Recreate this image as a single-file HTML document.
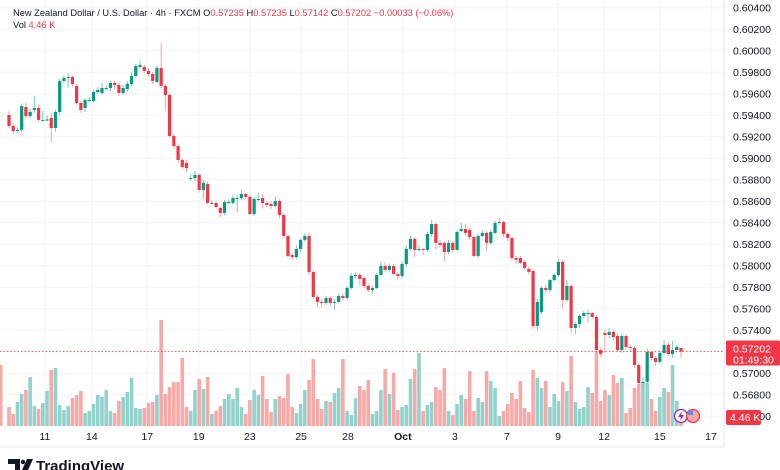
<!DOCTYPE html>
<html><head><meta charset="utf-8">
<style>
body{margin:0;background:#fff;width:780px;height:470px;overflow:hidden;font-family:"Liberation Sans",sans-serif}
#wrap{position:relative;width:780px;height:470px}
svg{position:absolute;left:0;top:0}
</style></head>
<body><div id="wrap">
<svg id="chart" width="780" height="470"></svg>
</div>
<script>
const opens=[.59402,.59300,.59253,.59263,.59477,.59393,.59449,.59467,.59356,.59356,.59374,.59281,.59430,.59719,.59746,.59756,.59672,.59514,.59467,.59542,.59533,.59616,.59607,.59653,.59653,.59700,.59681,.59607,.59644,.59691,.59765,.59849,.59849,.59812,.59784,.59709,.59840,.59672,.59588,.59207,.59114,.58984,.58956,.58816,.58816,.58844,.58705,.58760,.58584,.58584,.58537,.58491,.58593,.58584,.58630,.58630,.58667,.58640,.58481,.58621,.58630,.58584,.58574,.58556,.58602,.58472,.58277,.58100,.58081,.58156,.58240,.58277,.57942,.57709,.57663,.57653,.57700,.57653,.57663,.57719,.57700,.57793,.57914,.57914,.57886,.57812,.57774,.57793,.57914,.57998,.57961,.57998,.57923,.57905,.58016,.58156,.58249,.58156,.58156,.58147,.58295,.58388,.58212,.58212,.58128,.58212,.58147,.58323,.58342,.58333,.58267,.58091,.58277,.58305,.58212,.58305,.58398,.58407,.58295,.58258,.58072,.58072,.58035,.57970,.57951,.57440,.57570,.57793,.57774,.57867,.57914,.58035,.57681,.57812,.57421,.57458,.57533,.57560,.57560,.57523,.57216,.57374,.57356,.57384,.57346,.57216,.57346,.57244,.57235,.57077,.56909,.56919,.57198,.57142,.57105,.57188,.57263,.57179,.57216,.57235];
const closes=[.59300,.59253,.59263,.59486,.59393,.59430,.59467,.59356,.59356,.59360,.59281,.59430,.59719,.59746,.59756,.59691,.59514,.59449,.59542,.59542,.59616,.59635,.59653,.59653,.59700,.59681,.59607,.59653,.59691,.59765,.59858,.59867,.59812,.59784,.59719,.59840,.59672,.59588,.59207,.59114,.58984,.58919,.58909,.58816,.58844,.58705,.58770,.58584,.58584,.58546,.58491,.58593,.58593,.58630,.58630,.58667,.58640,.58481,.58621,.58621,.58584,.58565,.58556,.58602,.58472,.58277,.58091,.58081,.58156,.58240,.58277,.57942,.57709,.57663,.57653,.57700,.57653,.57663,.57719,.57700,.57793,.57905,.57914,.57877,.57812,.57774,.57793,.57914,.57998,.57961,.57998,.57923,.57905,.58016,.58156,.58249,.58147,.58156,.58147,.58295,.58388,.58212,.58193,.58128,.58212,.58147,.58314,.58342,.58305,.58267,.58091,.58277,.58305,.58212,.58314,.58398,.58407,.58295,.58258,.58072,.58054,.58026,.57979,.57942,.57440,.57663,.57793,.57774,.57867,.57914,.58035,.57681,.57812,.57421,.57458,.57533,.57560,.57560,.57523,.57216,.57179,.57356,.57384,.57337,.57216,.57346,.57244,.57235,.57077,.56909,.56919,.57198,.57142,.57105,.57188,.57263,.57179,.57216,.57244,.57202];
const highs=[.59440,.59330,.59290,.59510,.59520,.59460,.59580,.59500,.59440,.59400,.59420,.59450,.59740,.59770,.59790,.59770,.59690,.59530,.59560,.59570,.59640,.59660,.59700,.59680,.59720,.59720,.59700,.59680,.59720,.59800,.59880,.59910,.59870,.59840,.59800,.59860,.60070,.59690,.59610,.59230,.59130,.59000,.58980,.58850,.58880,.58860,.58800,.58780,.58610,.58600,.58560,.58610,.58620,.58660,.58660,.58700,.58680,.58660,.58640,.58680,.58670,.58600,.58600,.58640,.58620,.58490,.58290,.58120,.58190,.58260,.58300,.58310,.57960,.57730,.57690,.57720,.57720,.57690,.57740,.57740,.57810,.57930,.57940,.57930,.57900,.57830,.57810,.57930,.58040,.58030,.58020,.58020,.57940,.58040,.58190,.58280,.58260,.58190,.58170,.58320,.58430,.58400,.58240,.58230,.58240,.58230,.58330,.58400,.58390,.58350,.58280,.58300,.58330,.58320,.58340,.58420,.58440,.58420,.58310,.58270,.58090,.58090,.58050,.57990,.57970,.57690,.57810,.57820,.57880,.57930,.58060,.58050,.57870,.57830,.57480,.57550,.57580,.57590,.57570,.57540,.57240,.57400,.57420,.57410,.57370,.57370,.57360,.57270,.57250,.57090,.56960,.57230,.57210,.57160,.57210,.57310,.57290,.57300,.57260,.57235];
const lows=[.59280,.59230,.59235,.59240,.59370,.59370,.59420,.59340,.59340,.59340,.59150,.59250,.59400,.59700,.59660,.59660,.59500,.59420,.59430,.59520,.59520,.59600,.59590,.59630,.59620,.59640,.59580,.59590,.59620,.59670,.59750,.59830,.59790,.59760,.59690,.59700,.59650,.59440,.59190,.59090,.58960,.58900,.58870,.58790,.58790,.58680,.58620,.58570,.58570,.58530,.58450,.58470,.58570,.58570,.58500,.58610,.58620,.58470,.58460,.58600,.58530,.58540,.58530,.58540,.58440,.58260,.58080,.58060,.58060,.58120,.58220,.57910,.57690,.57620,.57610,.57630,.57620,.57590,.57650,.57680,.57680,.57780,.57880,.57820,.57790,.57750,.57740,.57780,.57900,.57940,.57940,.57910,.57870,.57880,.57990,.58140,.58080,.58130,.58100,.58130,.58270,.58150,.58170,.58040,.58110,.58120,.58140,.58310,.58280,.58240,.58080,.58070,.58260,.58140,.58190,.58290,.58380,.58270,.58230,.58050,.58020,.58010,.57960,.57920,.57410,.57400,.57550,.57750,.57750,.57850,.57900,.57600,.57660,.57370,.57360,.57420,.57510,.57470,.57500,.57190,.57150,.57190,.57320,.57310,.57200,.57190,.57220,.57200,.57050,.56820,.56880,.56900,.57120,.57070,.57090,.57170,.57160,.57150,.57200,.57142];
const volumes=[9.5,6,12,16,18,24.5,10,8.5,11.5,17.5,28,29,10.5,8,10,14,15.5,17.5,6.5,7.5,11,15.5,14.5,18,7.5,6.5,12.5,14.5,17,24,9,8.5,9,11.5,12,15.5,53,16,19.5,22,22,34,9.5,7.5,18,23.5,18.5,24.5,6,7.5,10,13.5,16,13.5,19,9.5,6,13,18,15.5,25,13.5,7,13.5,15,14,26,9.5,6.5,11,18,23,33.5,13.5,8.5,12.5,12,16.5,19,33.5,7.5,5.5,14,20,18,23,6,7.5,18,28.5,16,26.5,8,9.5,10.5,23.5,28.5,36.5,7.5,10.5,12,19.5,18,29,7.5,5.5,11,15.5,13.5,27.5,7.5,14,12,27.5,22.5,19,5,7.5,11,16.5,13.5,22.5,9,7,28,24,19,22.5,9.5,16,12.5,22,17.5,35,12,8.5,9.5,19.5,16.5,37.5,12.5,18,15.5,25.5,21.5,24,6.5,9,19,21,21.5,21.5,13.5,7.5,14.5,19,17,30.5,12.5,4.46];
const priceTicks=[0.604,0.602,0.600,0.598,0.596,0.594,0.592,0.590,0.588,0.586,0.584,0.582,0.580,0.578,0.576,0.574,0.572,0.570,0.568,0.566];
const dateLabels=["11","14","17","19","23","25","28","Oct","3","7","9","12","15","17"];
const datePos=[8.5,19.6,32.7,44.9,57,69.1,80.2,93.2,105.5,117.8,129.9,140.8,154,166.1];
const lastPrice=0.57202, lastVol=4.46, prevVol=30.5;

const NS="http://www.w3.org/2000/svg";
const svg=document.getElementById('chart');
function el(tag,attrs,parent){const e=document.createElementNS(NS,tag);for(const k in attrs)e.setAttribute(k,attrs[k]);(parent||svg).appendChild(e);return e;}
const x0=9, pitch=(681-9)/(opens.length-1);
const X=i=>x0+i*pitch;
const Y=p=>351.5-(p-lastPrice)*10750;
const volBase=426, VH=v=>v*2;
const GREEN="#089981", RED="#f23645";

const grid=el('g',{});
priceTicks.forEach(p=>{el('line',{x1:0,x2:724,y1:Y(p),y2:Y(p),stroke:'#f0f3fa','stroke-width':1},grid);});
datePos.forEach(d=>{el('line',{x1:X(d),x2:X(d),y1:0,y2:426,stroke:'#f0f3fa','stroke-width':1},grid);});

const vg=el('g',{});
// partial bar at left edge
const pb=el('rect',{x:0,y:volBase-VH(prevVol),width:2.5,height:VH(prevVol),fill:'#f7a9a7'},vg);


volumes.forEach((v,i)=>{const up=closes[i]>=opens[i];const h=VH(v);
 const r=el('rect',{x:X(i)-1.8,y:volBase-h,width:3.6,height:h,fill:up?'#92d2cc':'#f7a9a7'},vg);
 
 });

const cg=el('g',{});
opens.forEach((o,i)=>{const c=closes[i];const up=c>=o;const col=up?GREEN:RED;const wc=up?'#7cc7bd':'#f7a0a6';
 const g=el('g',{},cg);
 
 
 el('line',{x1:X(i),x2:X(i),y1:Y(highs[i]),y2:Y(lows[i]),stroke:wc,'stroke-width':1},g);
 const top=Math.min(Y(o),Y(c));const h=Math.max(1,Math.abs(Y(o)-Y(c)));
 el('rect',{x:X(i)-1.6,y:top,width:3.2,height:h,fill:col},g);});

const pl=el('line',{x1:0,x2:724,y1:Y(lastPrice),y2:Y(lastPrice),stroke:RED,'stroke-width':0.8,'stroke-dasharray':'1.5,2'});


el('line',{x1:724,x2:724,y1:0,y2:447,stroke:'#e0e3eb','stroke-width':1});
el('line',{x1:0,x2:724,y1:447,y2:447,stroke:'#e0e3eb','stroke-width':1});
const ya=el('g',{});
priceTicks.forEach(p=>{const t=el('text',{x:733,y:Y(p)+4,'font-size':10.5,fill:'#131722'},ya);t.textContent=p.toFixed(5);
 });
const xa=el('g',{});
dateLabels.forEach((d,i)=>{const t=el('text',{x:X(datePos[i]),y:440,'font-size':10.5,fill:'#131722','text-anchor':'middle','font-weight':d==='Oct'?'bold':'normal'},xa);t.textContent=d;
 });

const pg=el('g',{});
el('rect',{x:726,y:Y(lastPrice)-11,width:54,height:25,rx:2,fill:RED},pg);
let t=el('text',{x:733,y:Y(lastPrice)+1,'font-size':10.5,fill:'#fff'},pg);t.textContent=lastPrice.toFixed(5);
t=el('text',{x:733,y:Y(lastPrice)+12,'font-size':10.5,fill:'#fff'},pg);t.textContent="01:49:30";
const vlg=el('g',{});
el('rect',{x:726,y:410,width:35,height:15,rx:2,fill:RED},vlg);
t=el('text',{x:730,y:421,'font-size':10.5,fill:'#fff'},vlg);t.textContent=lastVol.toFixed(2)+" K";

const ic1=el('g',{});
el('circle',{cx:681,cy:416,r:6.5,fill:'#fff',stroke:'#9c27b0','stroke-width':1.3},ic1);
el('path',{d:'M682 411 L678 417 L681 417 L680 421 L684 415 L681 415 Z',fill:'#9c27b0'},ic1);
const ic2=el('g',{});
el('circle',{cx:693,cy:416,r:6.5,fill:'#f7a9a7',stroke:RED,'stroke-width':1.3},ic2);
el('rect',{x:688,y:411,width:5,height:4,fill:'#5b8ff0'},ic2);

const hd=el('g',{});
t=el('text',{x:13,y:16,'font-size':9.3,fill:'#131722'},hd);
t.innerHTML='New Zealand Dollar / U.S. Dollar · 4h · FXCM O<tspan fill="#f23645">0.57235</tspan> H<tspan fill="#f23645">0.57235</tspan> L<tspan fill="#f23645">0.57142</tspan> C<tspan fill="#f23645">0.57202</tspan> <tspan fill="#f23645">−0.00033 (−0.06%)</tspan>';
t=el('text',{x:13,y:28,'font-size':9.3,fill:'#131722'},hd);
t.innerHTML='Vol <tspan fill="#f23645">4.46 K</tspan>';

const lg=el('g',{});
el('path',{d:'M8 459 H20 V470 H15 V464 H8 Z',fill:'#131722'},lg);
el('circle',{cx:23,cy:462,r:2.2,fill:'#131722'},lg);
el('path',{d:'M27 459 H33 L28 470 H22 Z',fill:'#131722'},lg);
t=el('text',{x:36,y:471,'font-size':15,'font-weight':'bold',fill:'#131722'},lg);t.textContent='TradingView';
</script>
</body></html>
